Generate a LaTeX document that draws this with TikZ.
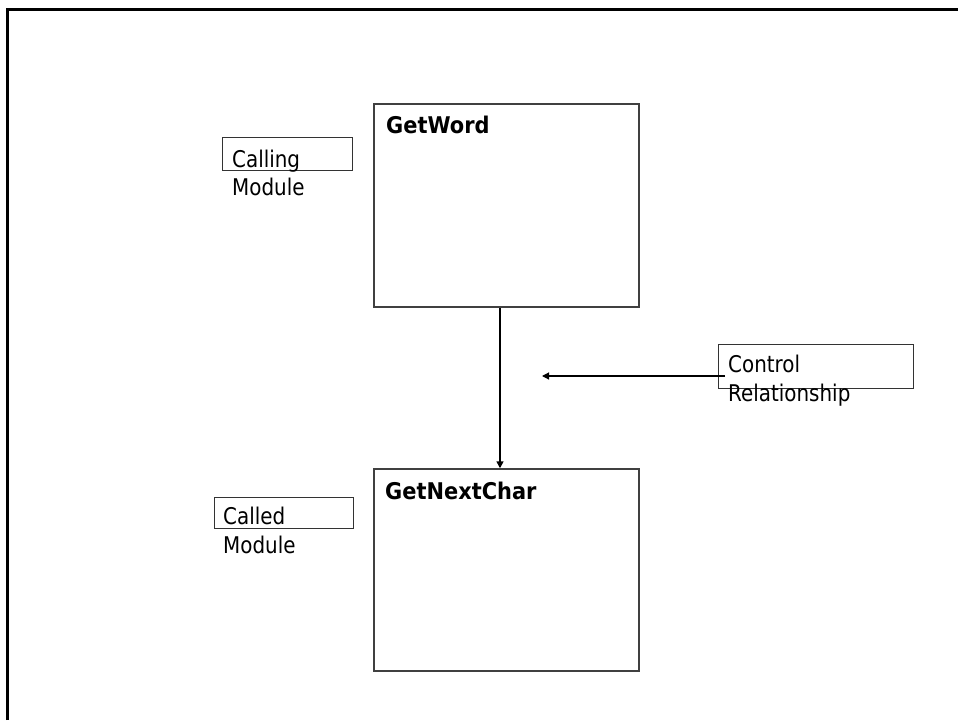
\documentclass[tikz,border=0pt]{standalone}
\usepackage{fontspec}
\setmainfont{DejaVu Sans}[FakeStretch=0.865,BoldFeatures={FakeStretch=0.91}]
\usetikzlibrary{arrows.meta,positioning}

\begin{document}
\begin{tikzpicture}[x=1pt,y=-1pt,>={Triangle[length=7pt,width=7pt]},
    module/.style={draw=black!75,line width=1.5pt,minimum width=265pt,minimum height=203pt,inner sep=0pt},
    tag/.style={draw=black!80,line width=1pt,inner sep=0pt},
    txt/.style={inner sep=0pt,anchor=base west,font=\fontsize{23}{28}\selectfont},
    ttl/.style={txt,font=\fontsize{23}{28}\selectfont\bfseries}]

    \useasboundingbox (0,0) rectangle (958,720);
    \draw[line width=3pt] (7.5,720) -- (7.5,9.5) -- (958,9.5);

    % the two modules
    \node[module] (getword) at (506.5,205.5) {};
    \node[module,minimum height=202pt] (getnext) at (506.5,570) {};
    \node[ttl] (getwordname) at (386,133) {GetWord};
    \node[ttl] (getnextname) at (385,499) {GetNextChar};

    % the call
    \draw[->,line width=1.5pt] ([xshift=-6.5pt]getword.south) -- ([xshift=-6.5pt]getnext.north);

    % side labels
    \node[tag,minimum width=130pt,minimum height=33pt] (callbox) at (287,153.5) {};
    \node[txt] (calla) at (232,167) {Calling};
    \node[txt] (callb) at (232,195) {Module};

    \node[tag,minimum width=139pt,minimum height=31pt] (calledbox) at (283.5,512.5) {};
    \node[txt] (calleda) at (223,524) {Called};
    \node[txt] (calledb) at (223,553) {Module};

    \node[tag,minimum width=195pt,minimum height=44pt] (ctlbox) at (815.5,366) {};
    \node[txt] (ctla) at (728,372.5) {Control};
    \node[txt] (ctlb) at (728,401.5) {Relationship};

    \coordinate (ctlfrom) at (725,376);
    \coordinate (ctltip) at (542,376);
    \draw[->,line width=1.2pt] (ctlfrom) -- (ctltip);
\end{tikzpicture}
\end{document}
